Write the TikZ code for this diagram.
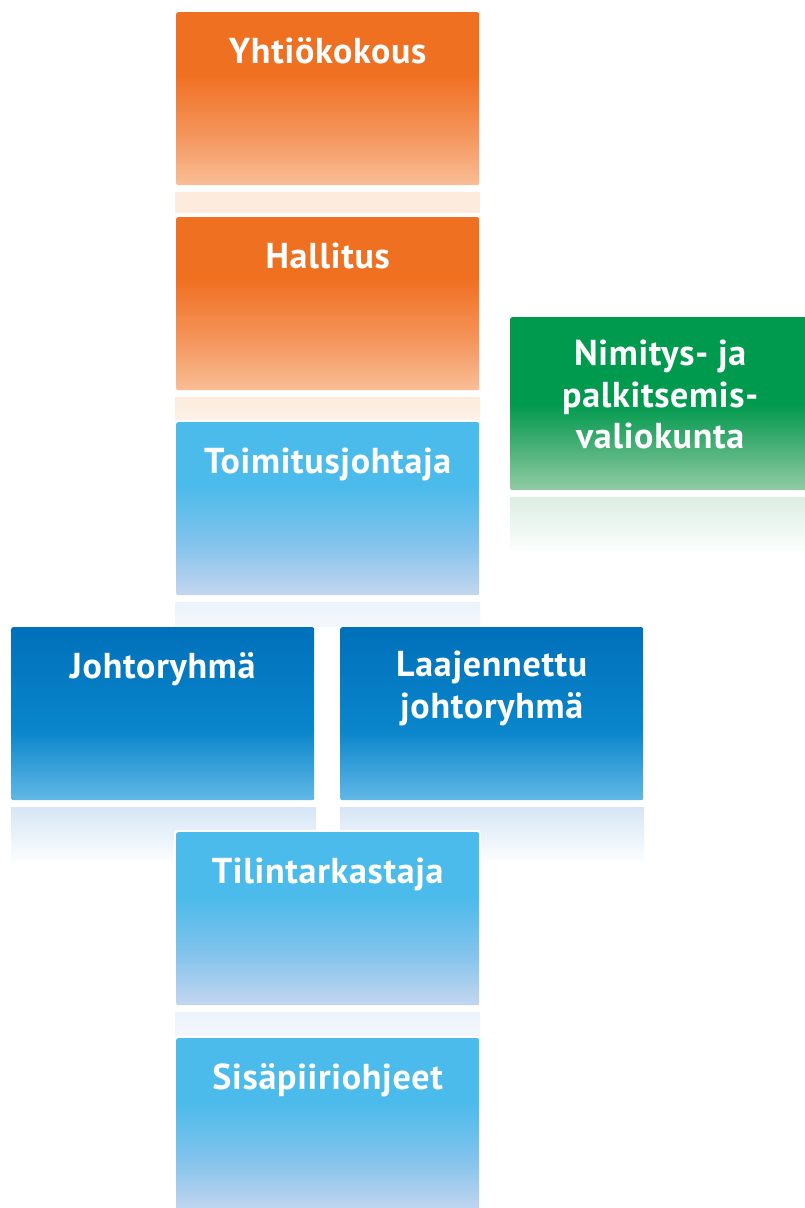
\documentclass[tikz,border=0pt]{standalone}
\usepackage{fontspec}
\setmainfont{PT Sans}[LetterSpace=2.0]
\definecolor{orT}{HTML}{F07022}
\definecolor{orM}{HTML}{F4945A}
\definecolor{orB}{HTML}{F9BE96}
\definecolor{lbT}{HTML}{4ABBEB}
\definecolor{lbM}{HTML}{82C3EC}
\definecolor{lbB}{HTML}{C4D6EF}
\definecolor{dbT}{HTML}{0070BA}
\definecolor{dbM}{HTML}{0A86CB}
\definecolor{dbB}{HTML}{62B8E6}
\definecolor{grT}{HTML}{009A4E}
\definecolor{grM}{HTML}{3AAB6E}
\definecolor{grB}{HTML}{92CCA5}
\definecolor{orR}{HTML}{FDEBDD}
\definecolor{lbR}{HTML}{EDF3FB}
\definecolor{dbR}{HTML}{D5E6F5}
\definecolor{grR}{HTML}{DCEEE2}
\pgfdeclareverticalshading{orsh}{100bp}{color(0bp)=(orB); color(25bp)=(orB); color(40bp)=(orM); color(57bp)=(orT); color(100bp)=(orT)}
\pgfdeclareverticalshading{lbsh}{100bp}{color(0bp)=(lbB); color(25bp)=(lbB); color(40bp)=(lbM); color(57bp)=(lbT); color(100bp)=(lbT)}
\pgfdeclareverticalshading{dbsh}{100bp}{color(0bp)=(dbB); color(25bp)=(dbB); color(45bp)=(dbM); color(75bp)=(dbT); color(100bp)=(dbT)}
\pgfdeclareverticalshading{grsh}{100bp}{color(0bp)=(grB); color(25bp)=(grB); color(40bp)=(grM); color(50bp)=(grT); color(100bp)=(grT)}
\usetikzlibrary{calc}
\begin{document}
\begin{tikzpicture}[x=1pt,y=-1pt,
  box/.style={rectangle, rounded corners=2pt, anchor=north west, inner sep=0pt, minimum width=303pt, minimum height=173pt},
  orbox/.style={box, shading=orsh},
  lbbox/.style={box, shading=lbsh},
  dbbox/.style={box, shading=dbsh},
  grbox/.style={box, shading=grsh, minimum width=300pt},
  txt/.style={text=white, font=\fontsize{36}{41.5}\selectfont\bfseries, align=center, anchor=base, inner sep=0pt}
]
\clip (0,0) rectangle (805,1208);
\fill[white] (0,0) rectangle (805,1208);

% reflections
\fill[orR] (175,192) rectangle (480,213);
\shade[top color=orR, bottom color=orR!70!white] (175,397) rectangle (480,419);
\shade[top color=lbR, bottom color=lbR!60!white] (175,602) rectangle (480,626);
\shade[top color=grR, bottom color=white] (510,497) rectangle (806,555);
\shade[top color=dbR, bottom color=white] (11,807) rectangle (316,865);
\shade[top color=dbR, bottom color=white] (340,807) rectangle (644,865);
\shade[top color=lbR, bottom color=lbR!70!white] (175,1012) rectangle (480,1035);
\fill[white, rounded corners=3pt] (174,830) rectangle (481,1007);

% boxes
\node[orbox] (yk) at (176,12) {};
\node[orbox] (hal) at (176,217) {};
\node[lbbox] (tj) at (176,422) {};
\node[grbox] (npv) at (510,317) {};
\node[dbbox] (jr) at (11,627) {};
\node[dbbox] (ljr) at (340,627) {};
\node[lbbox] (tt) at (176,832) {};
\node[lbbox] (sp) at (176,1038) {};

% texts
\node[txt] (yk-t) at ($(yk.north)+(0,51)$) {Yhtiökokous};
\node[txt] (hal-t) at ($(hal.north)+(0,51)$) {Hallitus};
\node[txt] (tj-t) at ($(tj.north)+(0,51)$) {Toimitusjohtaja};
\node[txt, anchor=north] (npv-t) at ($(npv.north)+(0,23)$) {Nimitys- ja\\palkitsemis-\\valiokunta};
\node[txt] (jr-t) at ($(jr.north)+(0,51)$) {Johtoryhmä};
\node[txt, anchor=north] (ljr-t) at ($(ljr.north)+(0,24)$) {Laajennettu\\johtoryhmä};
\node[txt] (tt-t) at ($(tt.north)+(0,51)$) {Tilintarkastaja};
\node[txt] (sp-t) at ($(sp.north)+(0,51)$) {Sisäpiiriohjeet};
\end{tikzpicture}
\end{document}
